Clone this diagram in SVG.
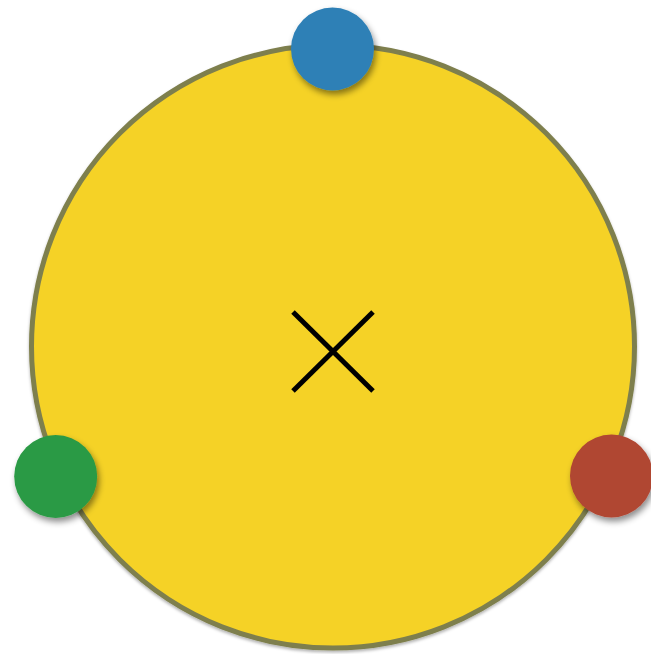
<svg xmlns="http://www.w3.org/2000/svg" width="651" height="654" viewBox="0 0 651 654">
  <defs>
    <filter id="shadow" x="-30%" y="-30%" width="170%" height="170%">
      <feDropShadow dx="2" dy="4" stdDeviation="3" flood-color="#000" flood-opacity="0.45"/>
    </filter>
    <filter id="bigshadow" x="-5%" y="-5%" width="110%" height="110%">
      <feDropShadow dx="0" dy="2" stdDeviation="1.5" flood-color="#000" flood-opacity="0.3"/>
    </filter>
    <style>
      .dot { stroke: none; filter: url(#shadow); }
      .x { stroke: #000; stroke-width: 5; stroke-linecap: butt; fill: none; }
    </style>
  </defs>
  <rect width="651" height="654" fill="#ffffff"/>
  <g id="main-circle" filter="url(#bigshadow)">
    <circle cx="333" cy="346.5" r="301.5" fill="#f5d227" stroke="#7e7f4d" stroke-width="5"/>
  </g>
  <g id="center-mark">
    <line class="x" x1="293" y1="312" x2="373" y2="391"/>
    <line class="x" x1="373" y1="312" x2="293" y2="391"/>
  </g>
  <g id="blue-node">
    <circle class="dot" cx="332.5" cy="49" r="41.5" fill="#2f80b6"/>
  </g>
  <g id="green-node">
    <circle class="dot" cx="55.7" cy="476.5" r="41.5" fill="#2c9a45"/>
  </g>
  <g id="red-node">
    <circle class="dot" cx="611.5" cy="476" r="41.5" fill="#b04633"/>
  </g>
</svg>
